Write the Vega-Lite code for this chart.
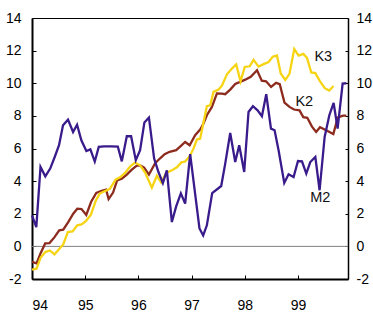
{
  "$schema": "https://vega.github.io/schema/vega-lite/v6.json",
  "width": 316,
  "height": 261,
  "autosize": {"type": "none"},
  "padding": {"left": 32, "top": 18, "right": 25, "bottom": 34},
  "background": "#ffffff",
  "config": {
    "view": {"stroke": null},
    "axis": {
      "grid": false,
      "title": null,
      "labelFont": "Liberation Sans",
      "labelFontSize": 14,
      "labelColor": "#000000",
      "domainColor": "#000000",
      "tickColor": "#000000"
    }
  },
  "resolve": {"axis": {"x": "independent", "y": "independent"}},
  "layer": [
    {
      "data": {"values": [{"z": 0}]},
      "mark": {"type": "rule", "color": "#808080", "strokeWidth": 1},
      "encoding": {
        "y": {
          "field": "z", "type": "quantitative",
          "scale": {"domain": [-2, 14], "nice": false, "zero": false},
          "axis": {"orient": "left", "values": [-2, 0, 2, 4, 6, 8, 10, 12, 14], "labelExpr": "'' + datum.value", "domainWidth": 2, "tickSize": -4, "tickWidth": 1, "labelPadding": 15}
        }
      }
    },
    {
      "data": {"values": [
        {"s": "K2", "t": 94.000, "v": -0.95}, {"s": "K2", "t": 94.085, "v": -1.04}, {"s": "K2", "t": 94.164, "v": -0.4}, {"s": "K2", "t": 94.248, "v": 0.18},
        {"s": "K2", "t": 94.329, "v": 0.2}, {"s": "K2", "t": 94.420, "v": 0.55}, {"s": "K2", "t": 94.512, "v": 0.98}, {"s": "K2", "t": 94.587, "v": 1.02},
        {"s": "K2", "t": 94.681, "v": 1.49}, {"s": "K2", "t": 94.775, "v": 2.0}, {"s": "K2", "t": 94.851, "v": 2.31}, {"s": "K2", "t": 94.931, "v": 2.29},
        {"s": "K2", "t": 95.020, "v": 1.93}, {"s": "K2", "t": 95.110, "v": 2.72}, {"s": "K2", "t": 95.208, "v": 3.28}, {"s": "K2", "t": 95.308, "v": 3.41},
        {"s": "K2", "t": 95.393, "v": 3.48}, {"s": "K2", "t": 95.440, "v": 2.9}, {"s": "K2", "t": 95.524, "v": 3.3}, {"s": "K2", "t": 95.600, "v": 4.05},
        {"s": "K2", "t": 95.688, "v": 4.15}, {"s": "K2", "t": 95.782, "v": 4.4}, {"s": "K2", "t": 95.876, "v": 4.7}, {"s": "K2", "t": 95.970, "v": 4.95},
        {"s": "K2", "t": 96.042, "v": 4.95}, {"s": "K2", "t": 96.108, "v": 4.83}, {"s": "K2", "t": 96.198, "v": 4.4}, {"s": "K2", "t": 96.315, "v": 5.1},
        {"s": "K2", "t": 96.409, "v": 5.4}, {"s": "K2", "t": 96.493, "v": 5.65}, {"s": "K2", "t": 96.587, "v": 5.8}, {"s": "K2", "t": 96.710, "v": 5.9},
        {"s": "K2", "t": 96.785, "v": 6.12}, {"s": "K2", "t": 96.879, "v": 6.4}, {"s": "K2", "t": 96.964, "v": 6.2}, {"s": "K2", "t": 97.067, "v": 6.81},
        {"s": "K2", "t": 97.161, "v": 7.16}, {"s": "K2", "t": 97.224, "v": 7.53}, {"s": "K2", "t": 97.287, "v": 8.04}, {"s": "K2", "t": 97.382, "v": 8.55},
        {"s": "K2", "t": 97.476, "v": 9.38}, {"s": "K2", "t": 97.570, "v": 9.37}, {"s": "K2", "t": 97.632, "v": 9.33}, {"s": "K2", "t": 97.726, "v": 9.61},
        {"s": "K2", "t": 97.820, "v": 9.96}, {"s": "K2", "t": 97.924, "v": 10.1}, {"s": "K2", "t": 98.008, "v": 10.22}, {"s": "K2", "t": 98.112, "v": 10.4},
        {"s": "K2", "t": 98.230, "v": 10.8}, {"s": "K2", "t": 98.319, "v": 10.16}, {"s": "K2", "t": 98.400, "v": 10.12}, {"s": "K2", "t": 98.494, "v": 9.77},
        {"s": "K2", "t": 98.588, "v": 10.02}, {"s": "K2", "t": 98.657, "v": 9.94}, {"s": "K2", "t": 98.746, "v": 8.82}, {"s": "K2", "t": 98.840, "v": 8.55},
        {"s": "K2", "t": 98.925, "v": 8.39}, {"s": "K2", "t": 99.028, "v": 8.34}, {"s": "K2", "t": 99.100, "v": 7.92}, {"s": "K2", "t": 99.175, "v": 7.88},
        {"s": "K2", "t": 99.263, "v": 7.34}, {"s": "K2", "t": 99.341, "v": 7.01}, {"s": "K2", "t": 99.414, "v": 7.3}, {"s": "K2", "t": 99.529, "v": 7.12},
        {"s": "K2", "t": 99.664, "v": 6.89}, {"s": "K2", "t": 99.749, "v": 7.9}, {"s": "K2", "t": 99.849, "v": 8.01}, {"s": "K2", "t": 99.909, "v": 8.02},

        {"s": "K3", "t": 94.000, "v": -1.43}, {"s": "K3", "t": 94.085, "v": -1.37}, {"s": "K3", "t": 94.164, "v": -0.68}, {"s": "K3", "t": 94.250, "v": -0.35},
        {"s": "K3", "t": 94.335, "v": -0.25}, {"s": "K3", "t": 94.423, "v": -0.49}, {"s": "K3", "t": 94.512, "v": -0.16}, {"s": "K3", "t": 94.587, "v": 0.12},
        {"s": "K3", "t": 94.674, "v": 0.88}, {"s": "K3", "t": 94.762, "v": 0.92}, {"s": "K3", "t": 94.851, "v": 1.29}, {"s": "K3", "t": 94.931, "v": 1.35},
        {"s": "K3", "t": 95.012, "v": 1.55}, {"s": "K3", "t": 95.105, "v": 1.93}, {"s": "K3", "t": 95.201, "v": 2.82}, {"s": "K3", "t": 95.276, "v": 3.25},
        {"s": "K3", "t": 95.370, "v": 3.39}, {"s": "K3", "t": 95.464, "v": 3.52}, {"s": "K3", "t": 95.571, "v": 4.09}, {"s": "K3", "t": 95.656, "v": 4.23},
        {"s": "K3", "t": 95.750, "v": 4.5}, {"s": "K3", "t": 95.844, "v": 4.9}, {"s": "K3", "t": 95.938, "v": 5.14}, {"s": "K3", "t": 96.032, "v": 4.97},
        {"s": "K3", "t": 96.126, "v": 4.53}, {"s": "K3", "t": 96.253, "v": 3.6}, {"s": "K3", "t": 96.347, "v": 4.33}, {"s": "K3", "t": 96.428, "v": 3.92},
        {"s": "K3", "t": 96.522, "v": 4.5}, {"s": "K3", "t": 96.629, "v": 4.66}, {"s": "K3", "t": 96.723, "v": 4.85}, {"s": "K3", "t": 96.809, "v": 5.15},
        {"s": "K3", "t": 96.879, "v": 5.2}, {"s": "K3", "t": 96.964, "v": 5.53}, {"s": "K3", "t": 97.035, "v": 5.99}, {"s": "K3", "t": 97.099, "v": 6.55},
        {"s": "K3", "t": 97.161, "v": 6.61}, {"s": "K3", "t": 97.287, "v": 8.59}, {"s": "K3", "t": 97.350, "v": 8.65}, {"s": "K3", "t": 97.412, "v": 9.47},
        {"s": "K3", "t": 97.506, "v": 9.61}, {"s": "K3", "t": 97.570, "v": 9.85}, {"s": "K3", "t": 97.664, "v": 10.55}, {"s": "K3", "t": 97.758, "v": 10.9},
        {"s": "K3", "t": 97.839, "v": 11.15}, {"s": "K3", "t": 97.920, "v": 10.12}, {"s": "K3", "t": 97.999, "v": 11.0}, {"s": "K3", "t": 98.093, "v": 11.04},
        {"s": "K3", "t": 98.164, "v": 11.43}, {"s": "K3", "t": 98.259, "v": 11.02}, {"s": "K3", "t": 98.353, "v": 11.17}, {"s": "K3", "t": 98.447, "v": 11.3},
        {"s": "K3", "t": 98.526, "v": 11.63}, {"s": "K3", "t": 98.605, "v": 11.7}, {"s": "K3", "t": 98.676, "v": 10.6}, {"s": "K3", "t": 98.761, "v": 10.2},
        {"s": "K3", "t": 98.840, "v": 10.58}, {"s": "K3", "t": 98.930, "v": 12.1}, {"s": "K3", "t": 99.011, "v": 11.69}, {"s": "K3", "t": 99.100, "v": 11.8},
        {"s": "K3", "t": 99.169, "v": 11.56}, {"s": "K3", "t": 99.250, "v": 10.66}, {"s": "K3", "t": 99.326, "v": 10.62}, {"s": "K3", "t": 99.414, "v": 10.12},
        {"s": "K3", "t": 99.504, "v": 9.7}, {"s": "K3", "t": 99.585, "v": 9.55}, {"s": "K3", "t": 99.670, "v": 9.83},

        {"s": "M2", "t": 94.000, "v": 1.9}, {"s": "M2", "t": 94.081, "v": 1.18}, {"s": "M2", "t": 94.160, "v": 4.87}, {"s": "M2", "t": 94.250, "v": 4.29},
        {"s": "M2", "t": 94.342, "v": 4.77}, {"s": "M2", "t": 94.427, "v": 5.48}, {"s": "M2", "t": 94.508, "v": 6.2}, {"s": "M2", "t": 94.583, "v": 7.42},
        {"s": "M2", "t": 94.677, "v": 7.77}, {"s": "M2", "t": 94.772, "v": 7.01}, {"s": "M2", "t": 94.847, "v": 7.46}, {"s": "M2", "t": 94.928, "v": 6.5},
        {"s": "M2", "t": 95.022, "v": 5.85}, {"s": "M2", "t": 95.097, "v": 5.95}, {"s": "M2", "t": 95.180, "v": 5.2}, {"s": "M2", "t": 95.255, "v": 6.1},
        {"s": "M2", "t": 95.355, "v": 6.13}, {"s": "M2", "t": 95.487, "v": 6.13}, {"s": "M2", "t": 95.613, "v": 6.12}, {"s": "M2", "t": 95.688, "v": 5.21},
        {"s": "M2", "t": 95.782, "v": 6.75}, {"s": "M2", "t": 95.863, "v": 6.75}, {"s": "M2", "t": 95.951, "v": 5.28}, {"s": "M2", "t": 96.032, "v": 5.89},
        {"s": "M2", "t": 96.113, "v": 7.6}, {"s": "M2", "t": 96.198, "v": 7.9}, {"s": "M2", "t": 96.296, "v": 5.38}, {"s": "M2", "t": 96.377, "v": 4.56},
        {"s": "M2", "t": 96.460, "v": 3.88}, {"s": "M2", "t": 96.535, "v": 4.66}, {"s": "M2", "t": 96.629, "v": 1.49}, {"s": "M2", "t": 96.710, "v": 2.45},
        {"s": "M2", "t": 96.798, "v": 3.25}, {"s": "M2", "t": 96.879, "v": 2.62}, {"s": "M2", "t": 96.973, "v": 5.65}, {"s": "M2", "t": 97.148, "v": 1.1},
        {"s": "M2", "t": 97.218, "v": 0.67}, {"s": "M2", "t": 97.287, "v": 1.29}, {"s": "M2", "t": 97.387, "v": 3.27}, {"s": "M2", "t": 97.557, "v": 3.7},
        {"s": "M2", "t": 97.632, "v": 5.07}, {"s": "M2", "t": 97.726, "v": 6.95}, {"s": "M2", "t": 97.820, "v": 5.17}, {"s": "M2", "t": 97.895, "v": 6.2},
        {"s": "M2", "t": 97.989, "v": 4.56}, {"s": "M2", "t": 98.070, "v": 8.24}, {"s": "M2", "t": 98.153, "v": 8.59}, {"s": "M2", "t": 98.240, "v": 8.34},
        {"s": "M2", "t": 98.322, "v": 7.98}, {"s": "M2", "t": 98.403, "v": 9.33}, {"s": "M2", "t": 98.492, "v": 7.22}, {"s": "M2", "t": 98.560, "v": 7.12},
        {"s": "M2", "t": 98.635, "v": 5.89}, {"s": "M2", "t": 98.742, "v": 3.89}, {"s": "M2", "t": 98.823, "v": 4.42}, {"s": "M2", "t": 98.917, "v": 4.25},
        {"s": "M2", "t": 99.000, "v": 5.23}, {"s": "M2", "t": 99.075, "v": 5.21}, {"s": "M2", "t": 99.156, "v": 4.46}, {"s": "M2", "t": 99.231, "v": 5.17},
        {"s": "M2", "t": 99.326, "v": 5.48}, {"s": "M2", "t": 99.406, "v": 3.44}, {"s": "M2", "t": 99.501, "v": 6.71}, {"s": "M2", "t": 99.589, "v": 8.04},
        {"s": "M2", "t": 99.670, "v": 8.79}, {"s": "M2", "t": 99.745, "v": 7.22}, {"s": "M2", "t": 99.839, "v": 9.98}, {"s": "M2", "t": 99.909, "v": 10.0}
      ]},
      "mark": {"type": "line", "strokeWidth": 2.3},
      "encoding": {
        "x": {
          "field": "t", "type": "quantitative",
          "scale": {"domain": [94, 99.94], "nice": false, "zero": false},
          "axis": {"orient": "bottom", "values": [94, 95, 96, 97, 98, 99], "labelExpr": "'' + datum.value", "domainWidth": 2, "tickSize": -4, "tickWidth": 1, "labelPadding": 23, "labelBaseline": "top"}
        },
        "y": {
          "field": "v", "type": "quantitative",
          "scale": {"domain": [-2, 14], "nice": false, "zero": false},
          "axis": {"orient": "right", "values": [-2, 0, 2, 4, 6, 8, 10, 12, 14], "labelExpr": "'' + datum.value", "domainWidth": 1.5, "tickSize": -3, "tickWidth": 1, "labelPadding": 11}
        },
        "color": {
          "field": "s", "type": "nominal",
          "scale": {"domain": ["K2", "K3", "M2"], "range": ["#8C2B1E", "#F6D414", "#3A1B8C"]},
          "legend": null
        }
      }
    },
    {
      "data": {"values": [
        {"t": 99.476, "v": 11.58, "label": "K3"},
        {"t": 99.119, "v": 8.83, "label": "K2"},
        {"t": 99.420, "v": 2.94, "label": "M2"}
      ]},
      "mark": {"type": "text", "font": "Liberation Sans", "fontSize": 14.5, "align": "center", "baseline": "middle", "color": "#111111"},
      "encoding": {
        "x": {
          "field": "t", "type": "quantitative",
          "scale": {"domain": [94, 99.94], "nice": false, "zero": false},
          "axis": {"orient": "top", "labels": false, "ticks": false, "domainWidth": 1}
        },
        "y": {
          "field": "v", "type": "quantitative",
          "scale": {"domain": [-2, 14], "nice": false, "zero": false},
          "axis": null
        },
        "text": {"field": "label", "type": "nominal"}
      }
    }
  ]
}
